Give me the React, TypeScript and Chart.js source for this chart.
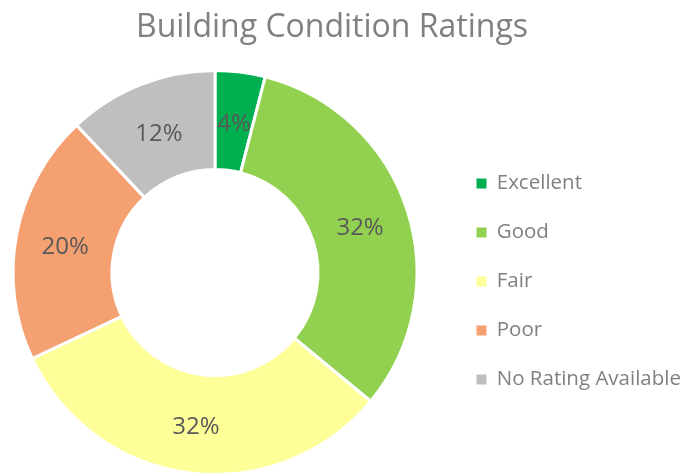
import React, { useEffect, useRef } from 'react';
import { Chart, registerables } from 'chart.js';

Chart.register(...registerables);

const categories = ['Excellent', 'Good', 'Fair', 'Poor', 'No Rating Available'];
const percentages = [4, 32, 32, 20, 12];
const sliceColors = ['#00B050', '#92D050', '#FFFF99', '#F4A071', '#BFBFBF'];
const titleText = 'Building Condition Ratings';

const FONT = "'Open Sans', sans-serif";
const LEGEND_WIDTH = 256;
const LEGEND_SHIFT = { dx: 18, dy: 9 };
const TITLE_SHIFT = { dx: -11, dy: 4 };
const LABEL_DY = 3;

function shiftDraw(box: any, dx: number, dy: number) {
  if (!box || box.__shifted) return;
  const orig = box.draw.bind(box);
  box.draw = function (...args: any[]) {
    const ctx = this.ctx;
    ctx.save();
    ctx.translate(dx, dy);
    orig(...args);
    ctx.restore();
  };
  box.__shifted = true;
}

const layoutPlugin = {
  id: 'layoutTweaks',
  beforeInit(chart: any) {
    const legend = chart.legend;
    if (legend && !legend.__fitPatched) {
      const origFit = legend.fit.bind(legend);
      legend.fit = function () {
        origFit();
        this.width = LEGEND_WIDTH;
      };
      legend.__fitPatched = true;
    }
    shiftDraw(chart.legend, LEGEND_SHIFT.dx, LEGEND_SHIFT.dy);
    shiftDraw(chart.titleBlock, TITLE_SHIFT.dx, TITLE_SHIFT.dy);
  },
};

const sliceLabelPlugin = {
  id: 'sliceLabels',
  afterDatasetsDraw(chart: any) {
    const ctx = chart.ctx;
    const meta = chart.getDatasetMeta(0);
    const data = chart.data.datasets[0].data;
    ctx.save();
    ctx.font = `24px ${FONT}`;
    ctx.fillStyle = '#595959';
    ctx.textAlign = 'center';
    ctx.textBaseline = 'middle';
    meta.data.forEach((arc: any, i: number) => {
      const p = arc.getCenterPoint();
      ctx.fillText(`${data[i]}%`, p.x, p.y + LABEL_DY);
    });
    ctx.restore();
  },
};

export default function App() {
  const canvasRef = useRef<HTMLCanvasElement | null>(null);

  useEffect(() => {
    if (!canvasRef.current) return;
    const chart = new Chart(canvasRef.current, {
      type: 'doughnut',
      data: {
        labels: categories,
        datasets: [
          {
            data: percentages,
            backgroundColor: sliceColors,
            borderColor: '#ffffff',
            borderWidth: 3,
          },
        ],
      },
      options: {
        responsive: false,
        animation: false,
        cutout: '51%',
        layout: { padding: 0 },
        plugins: {
          title: {
            display: true,
            text: titleText,
            color: '#808080',
            font: { family: FONT, size: 32, weight: 'normal' },
            padding: { top: 5, bottom: 25.6 },
          },
          legend: {
            display: true,
            position: 'right',
            fullSize: false,
            align: 'center',
            labels: {
              color: '#808080',
              font: { family: FONT, size: 20.5 },
              boxWidth: 10,
              boxHeight: 10,
              padding: 28.5,
              generateLabels: (chart: any) => {
                const base = (Chart as any).overrides.doughnut.plugins.legend.labels.generateLabels(chart);
                return base.map((l: any) => ({ ...l, lineWidth: 0, strokeStyle: 'rgba(0,0,0,0)' }));
              },
            },
          },
          tooltip: { enabled: false },
        },
      } as any,
      plugins: [layoutPlugin, sliceLabelPlugin],
    });
    return () => chart.destroy();
  }, []);

  return (
    <div style={{ position: 'absolute', left: 0, top: 0, width: 686, height: 476, background: '#fff' }}>
      <canvas ref={canvasRef} width={686} height={476} style={{ display: 'block' }} />
    </div>
  );
}
